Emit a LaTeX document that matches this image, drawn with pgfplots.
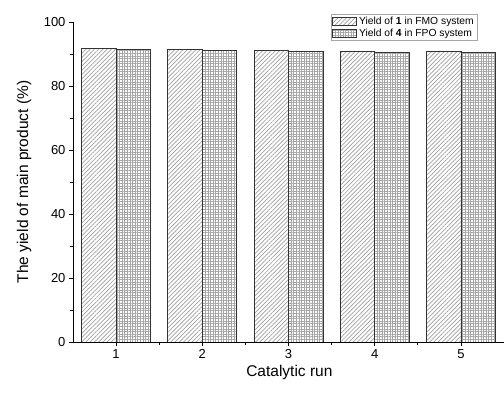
\documentclass[border=0pt]{standalone}
\usepackage{fontspec}
\setmainfont{Liberation Sans}
\usepackage{pgfplots}
\pgfplotsset{compat=1.18}
\usetikzlibrary{patterns,patterns.meta,calc}
\begin{document}
\begin{tikzpicture}
\begin{axis}[
  name=ax,
  scale only axis,
  width=431pt, height=320pt,
  xmin=0.5, xmax=5.5, ymin=0, ymax=100,
  axis x line=bottom, axis y line=left,
  axis line style={-, line width=0.9pt},
  tick align=outside,
  major tick length=4pt, minor tick length=2.5pt,
  tick style={line width=0.8pt, black},
  xtick={1,2,3,4,5},
  minor xtick={1.5,2.5,3.5,4.5},
  ytick={0,20,40,60,80,100},
  minor ytick={10,30,50,70,90},
  ticklabel style={font=\fontsize{13}{15}\selectfont},
  /pgf/number format/assume math mode=true,
  xlabel={Catalytic run},
  ylabel={The yield of main product (\%)},
  label style={font=\fontsize{15.5}{18}\selectfont},
  xlabel style={at={(axis description cs:0.502,0)}, anchor=north, yshift=-20pt},
  ylabel style={at={(axis description cs:0,0.5)}, anchor=south, yshift=38pt},
  ybar=0pt, bar width=0.4,
  legend style={at={(rel axis cs:0.599,1.025)}, anchor=north west,
    draw=gray!70, font=\fontsize{10.3}{12}\selectfont,
    inner sep=1pt, row sep=-1.5pt, cells={anchor=west}},
  legend image code/.code={\draw[#1] (0pt,-4pt) rectangle (24pt,4pt);},
]
\addplot[bar shift=-0.2, draw=black!80, line width=0.7pt,
  pattern={Lines[angle=45,distance=3pt,line width=0.7pt]}, pattern color=gray!75]
  coordinates {(1,91.8) (2,91.5) (3,91.2) (4,90.9) (5,90.8)};
\addplot[bar shift=0.2, draw=black!80, line width=0.7pt,
  pattern={Hatch[angle=0,distance=2.6pt,line width=0.9pt]}, pattern color=gray!70]
  coordinates {(1,91.3) (2,91.0) (3,90.8) (4,90.6) (5,90.5)};
\legend{Yield of \textbf{1} in FMO system, Yield of \textbf{4} in FPO system}
\end{axis}
\pgfresetboundingbox
\path ($(ax.south west)+(-73pt,-52pt)$) rectangle ($(ax.north east)+(0pt,22pt)$);
\end{tikzpicture}
\end{document}
